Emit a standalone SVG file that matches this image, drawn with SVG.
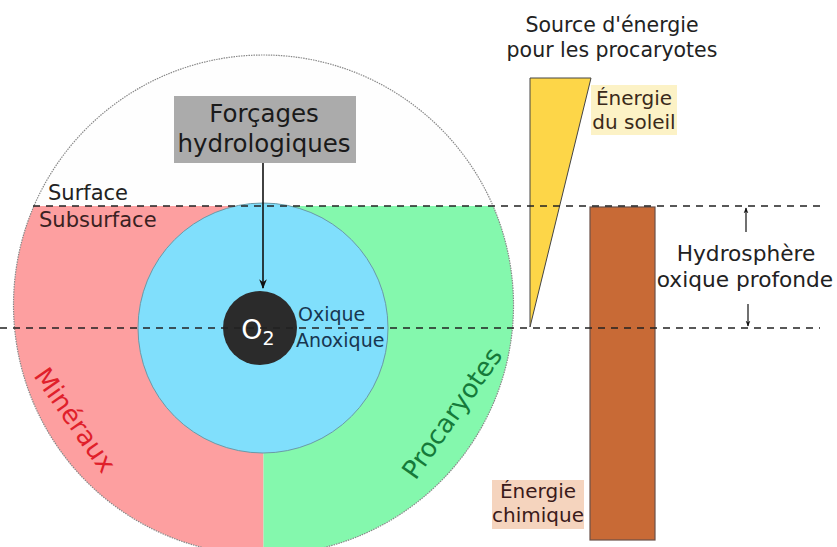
<svg xmlns="http://www.w3.org/2000/svg" width="837" height="547" viewBox="0 0 837 547">
<style>
text{font-family:"DejaVu Sans","Noto Sans",sans-serif;}
.dash{stroke:#222;stroke-width:1.6;stroke-dasharray:7,6;fill:none;}
.lbl{font-size:20.5px;fill:#222;}
</style>
<defs>
<marker id="ah" viewBox="0 0 10 10" refX="9" refY="5" markerWidth="6" markerHeight="6" orient="auto-start-reverse">
<path d="M0,1 L10,5 L0,9 L3,5 z" fill="#111"/>
</marker>
<marker id="ahs" viewBox="0 0 10 10" refX="9" refY="5" markerWidth="5" markerHeight="5" orient="auto">
<path d="M0,1 L10,5 L0,9 L3,5 z" fill="#111"/>
</marker>
<clipPath id="outer"><circle cx="263.5" cy="305" r="250"/></clipPath>
</defs>
<rect width="837" height="547" fill="#fff"/>
<g id="sphere">
<g clip-path="url(#outer)">
<rect x="0" y="0" width="600" height="206" fill="#fefefe"/>
<rect x="0" y="206" width="263.5" height="360" fill="#fd9fa0"/>
<rect x="263.5" y="206" width="300" height="360" fill="#84f8ad"/>
</g>
<circle cx="263.5" cy="305" r="250" fill="none" stroke="#888" stroke-width="1.2" stroke-dasharray="1.5,1"/>
</g>
<g id="blue-core">
<circle cx="263" cy="328" r="125" fill="#80dffc" stroke="#6a9aa8" stroke-width="1"/>
</g>
<g id="o2">
<circle cx="260" cy="328" r="37" fill="#2b2b2b"/>
<text x="258" y="339" font-size="27" fill="#fff" text-anchor="middle">O<tspan font-size="19" dy="6">2</tspan></text>
</g>
<g id="triangle">
<polygon points="530,78 591,78 530,327" fill="#fdd648" stroke="#444" stroke-width="1"/>
</g>
<g id="brown-bar">
<rect x="590" y="207" width="65" height="333" fill="#c86a36" stroke="#6b5048" stroke-width="1.2"/>
</g>
<g id="connectors">
<line class="dash" x1="33" y1="206" x2="820" y2="206"/>
<line class="dash" x1="0" y1="328" x2="820" y2="328"/>
<line x1="263" y1="163" x2="263" y2="288" stroke="#111" stroke-width="1.6" marker-end="url(#ah)"/>
<line x1="746" y1="232" x2="746" y2="208" stroke="#111" stroke-width="1.2" marker-end="url(#ahs)"/>
<line x1="748" y1="304" x2="748" y2="326" stroke="#111" stroke-width="1.2" marker-end="url(#ahs)"/>
</g>
<g id="forcages">
<rect x="174" y="96" width="182" height="67" fill="#ababab"/>
<text x="264" y="122" font-size="24.5" fill="#1a1a1a" text-anchor="middle">Forçages</text>
<text x="264" y="152" font-size="24.5" fill="#1a1a1a" text-anchor="middle">hydrologiques</text>
</g>
<g id="surface-labels">
<text x="48" y="200" font-size="21" fill="#222">Surface</text>
<text x="39" y="227" font-size="21" fill="#3a2222">Subsurface</text>
</g>
<g id="oxique-labels">
<text x="298" y="321" font-size="19" fill="#173650">Oxique</text>
<text x="296" y="347" font-size="19" fill="#173650">Anoxique</text>
</g>
<g id="mineraux">
<text x="75" y="429" font-size="26" fill="#e0202a" text-anchor="middle" transform="rotate(55 75 420)">Minéraux</text>
</g>
<g id="procaryotes">
<text x="452" y="422" font-size="26" fill="#157a3a" text-anchor="middle" transform="rotate(-55 452 413)">Procaryotes</text>
</g>
<g id="source-title">
<text class="lbl" x="612" y="32" text-anchor="middle">Source d'énergie</text>
<text class="lbl" x="612" y="57" text-anchor="middle">pour les procaryotes</text>
</g>
<g id="energie-soleil">
<rect x="591" y="85" width="86" height="50" fill="#fcf2c6"/>
<text x="634" y="105" font-size="20" text-anchor="middle" fill="#3a2a1a">Énergie</text>
<text x="634" y="129" font-size="20" text-anchor="middle" fill="#3a2a1a">du soleil</text>
</g>
<g id="energie-chimique">
<rect x="492" y="480" width="92" height="49" fill="#f5d4be"/>
<text x="538" y="498" font-size="20" text-anchor="middle" fill="#3a1a1a">Énergie</text>
<text x="538" y="522" font-size="20" text-anchor="middle" fill="#3a1a1a">chimique</text>
</g>
<g id="hydrosphere">
<text x="746" y="261" font-size="21.7" fill="#222" text-anchor="middle">Hydrosphère</text>
<text x="745" y="287" font-size="21.7" fill="#222" text-anchor="middle">oxique profonde</text>
</g>
</svg>
